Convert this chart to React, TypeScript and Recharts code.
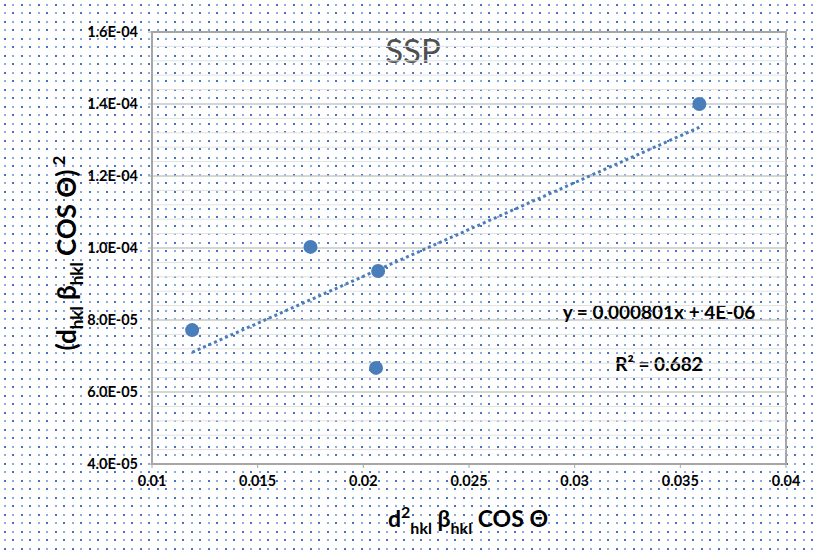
import { ScatterChart, Scatter, XAxis, YAxis, CartesianGrid, ReferenceLine, ReferenceArea } from "recharts"

const xValues = [0.0119, 0.0175, 0.0207, 0.0206, 0.0359]
const yValues = [7.72e-5, 1.003e-4, 9.36e-5, 6.67e-5, 1.4e-4]
const xTicks = [0.01, 0.015, 0.02, 0.025, 0.03, 0.035, 0.04]
const yTicks = [4e-5, 6e-5, 8e-5, 1e-4, 1.2e-4, 1.4e-4, 1.6e-4]
const titleText = "SSP"
const equationText = "y = 0.000801x + 4E-06"
const r2Text = "R² = 0.682"

const data = xValues.map((x, i) => ({ x, y: yValues[i] }))

// linear trendline (least squares) from the points
const n = xValues.length
const mx = xValues.reduce((a, b) => a + b, 0) / n
const my = yValues.reduce((a, b) => a + b, 0) / n
let sxy = 0
let sxx = 0
xValues.forEach((x, i) => {
  sxy += (x - mx) * (yValues[i] - my)
  sxx += (x - mx) * (x - mx)
})
const slope = sxy / sxx
const intercept = my - slope * mx
const xMin = Math.min(...xValues)
const xMax = Math.max(...xValues)

// minor gridlines every 4E-06
const minorTicks: number[] = []
for (let i = 0; i < yTicks.length - 1; i++) {
  for (let k = 1; k < 5; k++) minorTicks.push(yTicks[i] + (k * (yTicks[i + 1] - yTicks[i])) / 5)
}

const fmtE = (v: number) => {
  const [m, e] = v.toExponential(1).split("e")
  const p = parseInt(e, 10)
  return `${m}E${p < 0 ? "-" : "+"}${String(Math.abs(p)).padStart(2, "0")}`
}

const font = "Lato, 'Open Sans', sans-serif"

// dotted page fill, ~8.5px spacing
const dotTile =
  "url(\"data:image/svg+xml;utf8," +
  encodeURIComponent(
    "<svg xmlns='http://www.w3.org/2000/svg' width='17' height='17' shape-rendering='crispEdges'>" +
      "<g fill='#4472c4'>" +
      "<rect x='4' y='4' width='2' height='2'/>" +
      "<rect x='12' y='4' width='2' height='2' fill='#8fabdc'/>" +
      "<rect x='4' y='12' width='2' height='2' fill='#8fabdc'/>" +
      "<rect x='12' y='12' width='2' height='2'/>" +
      "</g></svg>"
  ) +
  "\")"

const Overlay = () => (
  <g fontFamily={font}>
    <text x={413} y={63} textAnchor="middle" fontSize={33} fill="#505050">
      {titleText}
    </text>
    <text x={659} y={319} textAnchor="middle" fontSize={19} fontWeight="bold" fill="#000">
      {equationText}
    </text>
    <text x={659} y={371} textAnchor="middle" fontSize={19} fontWeight="bold" fill="#000">
      {r2Text}
    </text>
  </g>
)

const XTitle = () => (
  <text x={468} y={527} textAnchor="middle" fontFamily={font} fontSize={23} fontWeight="bold" fill="#000">
    d<tspan fontSize={16} dy={-9}>2</tspan>
    <tspan fontSize={16} dy={16}>hkl</tspan>
    <tspan fontSize={23} dy={-7}> β</tspan>
    <tspan fontSize={16} dy={7}>hkl</tspan>
    <tspan fontSize={23} dy={-7}> COS Θ</tspan>
  </text>
)

const YTitle = () => (
  <text
    x={0}
    y={0}
    transform="translate(76,253) rotate(-90)"
    textAnchor="middle"
    fontFamily={font}
    fontSize={26}
    fontWeight="bold"
    fill="#000"
  >
    (d<tspan fontSize={17} dy={7}>hkl</tspan>
    <tspan fontSize={26} dy={-7}> β</tspan>
    <tspan fontSize={17} dy={7}>hkl</tspan>
    <tspan fontSize={26} dy={-7}> COS Θ)</tspan>
    <tspan fontSize={17} dy={-11}> 2</tspan>
  </text>
)

export default function App() {
  return (
    <div
      style={{
        position: "absolute",
        left: 0,
        top: 0,
        width: 814,
        height: 553,
        backgroundColor: "#fff",
        backgroundImage: dotTile,
        backgroundSize: "17px 17px",
      }}
    >
      <ScatterChart width={814} height={553} margin={{ top: 32, right: 28, bottom: 49, left: 0 }}>
        <CartesianGrid vertical={false} stroke="#c8c8c8" strokeWidth={1.5} />
        {minorTicks.map((v) => (
          <ReferenceLine key={v} y={v} stroke="#e2e2e2" strokeWidth={1} />
        ))}
        <XAxis
          type="number"
          dataKey="x"
          domain={[0.01, 0.04]}
          ticks={xTicks}
          height={40}
          tickSize={4}
          tickMargin={8}
          axisLine={{ stroke: "#a6a6a6", strokeWidth: 2 }}
          tickLine={{ stroke: "#a6a6a6" }}
          tick={{ fontFamily: font, fontSize: 14.5, fontWeight: "bold", fill: "#000" }}
          label={{ content: () => <XTitle /> }}
        />
        <YAxis
          type="number"
          dataKey="y"
          domain={[4e-5, 1.6e-4]}
          ticks={yTicks}
          width={152}
          tickSize={4}
          tickMargin={10}
          tickFormatter={fmtE}
          axisLine={{ stroke: "#a6a6a6", strokeWidth: 2 }}
          tickLine={{ stroke: "#a6a6a6" }}
          tick={{ fontFamily: font, fontSize: 14.5, fontWeight: "bold", fill: "#000" }}
          label={{ content: () => <YTitle /> }}
        />
        <ReferenceArea
          x1={0.01}
          x2={0.04}
          y1={4e-5}
          y2={1.6e-4}
          fill="none"
          stroke="#a6a6a6"
          strokeWidth={2}
          label={{ content: () => <Overlay /> }}
        />
        <ReferenceLine
          segment={[
            { x: xMin, y: slope * xMin + intercept },
            { x: xMax, y: slope * xMax + intercept },
          ]}
          stroke="#4a7ebb"
          strokeWidth={3}
          strokeDasharray="3 3"
        />
        <Scatter
          data={data}
          isAnimationActive={false}
          shape={(p: any) => <circle cx={p.cx} cy={p.cy} r={7} fill="#4a7ebb" />}
        />
      </ScatterChart>
    </div>
  )
}
